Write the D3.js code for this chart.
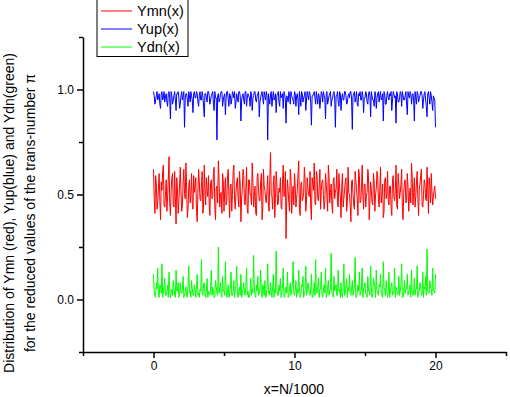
<!DOCTYPE html>
<html><head><meta charset="utf-8">
<script src="https://cdn.jsdelivr.net/npm/d3@7"></script>
<style>body{margin:0;background:#fff}svg{display:block}text{font-family:"Liberation Sans",Arial,sans-serif}</style>
</head><body>
<svg id="c" width="510" height="397"></svg>
<script>
const xStep = 0.05;
const xTicks = [0, 10, 20];
const yTicks = [0.0, 0.5, 1.0];
const seriesNames = ["Ymn(x)", "Yup(x)", "Ydn(x)"];
// even-indexed samples (x = 0, 0.1, ..., 20)
const yupA = [
0.99,0.93,0.97,0.95,0.98,0.91,0.99,0.96,0.94,0.98,
0.92,0.99,0.86,0.97,0.95,0.99,0.90,0.98,0.96,0.93,
0.99,0.97,0.82,0.98,0.95,0.99,0.94,0.97,0.89,0.99,
0.96,0.98,0.92,0.99,0.95,0.97,0.87,0.98,0.94,0.99,
0.93,0.97,0.99,0.90,0.96,0.76,0.98,0.95,0.99,0.92,
0.97,0.88,0.99,0.95,0.98,0.93,0.99,0.96,0.91,0.98,
0.94,0.99,0.85,0.97,0.95,0.99,0.92,0.98,0.96,0.99,
0.90,0.97,0.99,0.94,0.98,0.87,0.96,0.99,0.93,0.97,
0.99,0.76,0.95,0.98,0.92,0.99,0.96,0.89,0.98,0.94,
0.99,0.97,0.91,0.98,0.84,0.96,0.99,0.93,0.97,0.95,
0.99,0.92,0.98,0.88,0.96,0.99,0.94,0.97,0.90,0.99,
0.95,0.98,0.83,0.97,0.99,0.93,0.96,0.98,0.91,0.99,
0.94,0.97,0.86,0.99,0.95,0.98,0.92,0.96,0.99,0.82,
0.97,0.94,0.99,0.90,0.98,0.95,0.99,0.93,0.97,0.96,
0.99,0.81,0.98,0.94,0.99,0.92,0.97,0.95,0.99,0.89,
0.96,0.98,0.93,0.99,0.87,0.97,0.95,0.99,0.91,0.98,
0.94,0.99,0.96,0.85,0.98,0.93,0.99,0.95,0.97,0.90,
0.99,0.96,0.84,0.98,0.94,0.99,0.92,0.97,0.95,0.99,
0.88,0.97,0.99,0.93,0.98,0.85,0.96,0.99,0.94,0.97,
0.99,0.91,0.98,0.95,0.87,0.99,0.93,0.97,0.90,0.96,0.82];
// odd-indexed samples (x = 0.05, 0.15, ..., 19.95)
const yupB = [
0.97,0.95,0.99,0.96,0.93,0.98,0.95,0.99,0.97,0.94,
0.98,0.96,0.99,0.93,0.97,0.95,0.98,0.99,0.91,0.97,
0.95,0.99,0.96,0.98,0.92,0.97,0.99,0.95,0.98,0.96,
0.99,0.94,0.97,0.95,0.99,0.92,0.98,0.96,0.99,0.97,
0.95,0.98,0.93,0.99,0.96,0.97,0.94,0.98,0.99,0.95,
0.98,0.96,0.99,0.92,0.97,0.95,0.98,0.99,0.94,0.96,
0.99,0.97,0.95,0.98,0.93,0.99,0.96,0.97,0.92,0.98,
0.96,0.99,0.95,0.97,0.99,0.94,0.98,0.96,0.99,0.95,
0.97,0.98,0.93,0.99,0.96,0.95,0.98,0.97,0.99,0.92,
0.96,0.98,0.99,0.95,0.97,0.94,0.98,0.99,0.96,0.93,
0.98,0.97,0.95,0.99,0.92,0.98,0.96,0.99,0.95,0.97,
0.99,0.94,0.97,0.98,0.96,0.99,0.93,0.97,0.95,0.98,
0.99,0.96,0.98,0.93,0.97,0.99,0.95,0.98,0.96,0.97,
0.99,0.92,0.98,0.96,0.95,0.99,0.97,0.94,0.98,0.99,
0.95,0.97,0.99,0.96,0.93,0.98,0.99,0.95,0.97,0.96,
0.99,0.94,0.98,0.97,0.99,0.95,0.92,0.98,0.96,0.99,
0.97,0.95,0.98,0.99,0.93,0.97,0.96,0.98,0.99,0.95,
0.98,0.97,0.99,0.94,0.96,0.98,0.99,0.95,0.97,0.93,
0.99,0.96,0.98,0.97,0.95,0.99,0.93,0.98,0.96,0.99,
0.97,0.95,0.99,0.92,0.98,0.96,0.99,0.94,0.97,0.95];
const ymnA = [
0.62,0.41,0.55,0.46,0.60,0.38,0.52,0.64,0.44,0.57,
0.49,0.68,0.40,0.58,0.45,0.61,0.36,0.53,0.47,0.63,
0.42,0.56,0.50,0.65,0.39,0.54,0.46,0.60,0.43,0.51,
0.58,0.37,0.62,0.48,0.55,0.41,0.64,0.45,0.52,0.59,
0.40,0.57,0.49,0.63,0.38,0.54,0.66,0.44,0.51,0.60,
0.42,0.58,0.47,0.62,0.39,0.55,0.50,0.64,0.43,0.56,
0.48,0.61,0.37,0.53,0.59,0.45,0.63,0.41,0.57,0.50,
0.65,0.44,0.54,0.40,0.60,0.47,0.56,0.38,0.62,0.52,
0.46,0.59,0.42,0.70,0.49,0.55,0.39,0.61,0.45,0.53,
0.58,0.43,0.64,0.50,0.29,0.57,0.46,0.62,0.41,0.54,
0.60,0.44,0.52,0.66,0.40,0.56,0.48,0.63,0.42,0.58,
0.50,0.61,0.38,0.55,0.65,0.45,0.59,0.47,0.62,0.52,
0.57,0.43,0.60,0.49,0.64,0.46,0.55,0.41,0.58,0.51,
0.62,0.44,0.53,0.39,0.60,0.48,0.56,0.42,0.63,0.50,
0.37,0.57,0.45,0.61,0.52,0.40,0.59,0.47,0.64,0.43,
0.55,0.49,0.62,0.38,0.56,0.46,0.60,0.42,0.53,0.58,
0.44,0.63,0.50,0.39,0.57,0.48,0.61,0.45,0.54,0.40,
0.59,0.47,0.64,0.43,0.55,0.51,0.62,0.38,0.56,0.46,
0.60,0.42,0.53,0.65,0.45,0.58,0.49,0.61,0.40,0.55,
0.62,0.44,0.57,0.48,0.63,0.41,0.54,0.60,0.45,0.52,0.48];
const ymnB = [
0.48,0.59,0.43,0.53,0.47,0.56,0.61,0.45,0.50,0.42,
0.57,0.46,0.52,0.60,0.44,0.49,0.58,0.41,0.55,0.51,
0.45,0.62,0.48,0.53,0.43,0.57,0.50,0.46,0.59,0.54,
0.42,0.51,0.56,0.47,0.61,0.44,0.52,0.58,0.49,0.45,
0.55,0.48,0.60,0.43,0.53,0.46,0.57,0.50,0.41,0.56,
0.52,0.45,0.59,0.49,0.54,0.42,0.61,0.47,0.51,0.58,
0.44,0.55,0.48,0.62,0.46,0.53,0.43,0.57,0.50,0.45,
0.56,0.49,0.41,0.58,0.52,0.47,0.60,0.44,0.54,0.48,
0.53,0.45,0.57,0.50,0.43,0.59,0.48,0.55,0.46,0.51,
0.44,0.56,0.49,0.61,0.47,0.52,0.42,0.58,0.50,0.45,
0.54,0.48,0.60,0.43,0.55,0.47,0.51,0.57,0.46,0.53,
0.49,0.44,0.58,0.52,0.46,0.61,0.48,0.54,0.43,0.56,
0.50,0.47,0.55,0.42,0.59,0.51,0.45,0.57,0.48,0.53,
0.46,0.60,0.49,0.54,0.44,0.52,0.58,0.47,0.51,0.45,
0.56,0.50,0.43,0.57,0.48,0.62,0.46,0.53,0.49,0.55,
0.44,0.51,0.59,0.47,0.52,0.45,0.56,0.50,0.61,0.48,
0.53,0.46,0.55,0.42,0.58,0.50,0.47,0.54,0.44,0.57,
0.49,0.52,0.45,0.60,0.48,0.55,0.43,0.51,0.57,0.47,
0.54,0.49,0.46,0.58,0.51,0.44,0.56,0.48,0.53,0.59,
0.45,0.50,0.55,0.47,0.52,0.58,0.46,0.51,0.49,0.54];
const ydnA = [
0.12,0.02,0.08,0.15,0.01,0.06,0.17,0.03,0.10,0.02,
0.07,0.13,0.01,0.05,0.09,0.02,0.14,0.04,0.01,0.08,
0.03,0.11,0.02,0.06,0.01,0.16,0.04,0.09,0.02,0.07,
0.01,0.12,0.03,0.05,0.19,0.02,0.08,0.01,0.10,0.04,
0.02,0.14,0.06,0.01,0.09,0.03,0.25,0.05,0.02,0.11,
0.04,0.18,0.01,0.07,0.03,0.13,0.02,0.09,0.05,0.16,
0.01,0.06,0.12,0.03,0.08,0.02,0.15,0.04,0.01,0.10,
0.05,0.21,0.02,0.07,0.11,0.03,0.14,0.01,0.06,0.09,
0.02,0.17,0.04,0.08,0.01,0.12,0.05,0.23,0.02,0.07,
0.10,0.03,0.15,0.01,0.06,0.13,0.02,0.08,0.04,0.18,
0.02,0.09,0.05,0.14,0.01,0.07,0.11,0.03,0.16,0.04,
0.06,0.02,0.12,0.01,0.08,0.19,0.03,0.10,0.05,0.13,
0.01,0.07,0.15,0.02,0.09,0.04,0.22,0.03,0.11,0.06,
0.02,0.14,0.05,0.08,0.01,0.17,0.03,0.10,0.06,0.12,
0.02,0.09,0.04,0.20,0.01,0.07,0.13,0.03,0.15,0.05,
0.08,0.02,0.11,0.04,0.16,0.01,0.10,0.06,0.14,0.03,
0.07,0.12,0.02,0.18,0.05,0.09,0.01,0.13,0.04,0.08,
0.03,0.15,0.06,0.02,0.11,0.04,0.17,0.01,0.09,0.05,
0.12,0.03,0.07,0.14,0.02,0.10,0.05,0.16,0.04,0.08,
0.02,0.13,0.06,0.11,0.24,0.03,0.09,0.05,0.15,0.04,0.12];
const ydnB = [
0.04,0.01,0.05,0.02,0.07,0.03,0.01,0.06,0.02,0.04,
0.01,0.05,0.03,0.02,0.06,0.01,0.04,0.08,0.02,0.03,
0.05,0.01,0.04,0.02,0.07,0.03,0.01,0.05,0.02,0.04,
0.06,0.02,0.01,0.04,0.03,0.07,0.02,0.05,0.01,0.03,
0.05,0.02,0.04,0.01,0.06,0.02,0.03,0.08,0.01,0.04,
0.02,0.05,0.03,0.01,0.06,0.02,0.04,0.01,0.07,0.03,
0.04,0.02,0.01,0.05,0.03,0.06,0.02,0.01,0.04,0.02,
0.03,0.06,0.01,0.04,0.02,0.05,0.03,0.07,0.02,0.01,
0.05,0.03,0.02,0.04,0.06,0.01,0.03,0.05,0.02,0.04,
0.01,0.06,0.02,0.04,0.03,0.01,0.05,0.02,0.07,0.03,
0.04,0.01,0.03,0.05,0.02,0.06,0.01,0.04,0.02,0.08,
0.03,0.05,0.01,0.04,0.02,0.03,0.06,0.01,0.05,0.02,
0.04,0.03,0.01,0.06,0.02,0.05,0.03,0.01,0.04,0.07,
0.02,0.04,0.01,0.03,0.05,0.02,0.06,0.01,0.04,0.03,
0.05,0.02,0.07,0.01,0.03,0.04,0.02,0.05,0.01,0.06,
0.03,0.01,0.04,0.02,0.05,0.03,0.08,0.01,0.04,0.02,
0.06,0.03,0.01,0.05,0.02,0.04,0.03,0.01,0.06,0.02,
0.04,0.01,0.05,0.03,0.02,0.07,0.01,0.04,0.03,0.05,
0.02,0.06,0.01,0.04,0.03,0.02,0.05,0.01,0.04,0.06,
0.03,0.01,0.05,0.02,0.04,0.03,0.06,0.02,0.04,0.03];

function merge(a, b) {
  const out = [];
  a.forEach((v, i) => { out.push(v); if (i < b.length) out.push(b[i]); });
  return out;
}

const svg = d3.select("#c");
const L = 83, R = 506, T = 37, B = 352;
const x = d3.scaleLinear().domain([-5, 25]).range([L, R]);
const y = d3.scaleLinear().domain([-0.25, 1.25]).range([B, T]);

const line = d3.line().x((d, i) => x(i * xStep)).y(d => y(d));
const series = [
  {v: merge(ymnA, ymnB), c: "#ff0000"},
  {v: merge(yupA, yupB), c: "#0000ff"},
  {v: merge(ydnA, ydnB), c: "#00ff00"}];
series.forEach(s => {
  svg.append("path").attr("d", line(s.v)).attr("fill", "none")
    .attr("stroke", s.c).attr("stroke-width", 1);
});

const xAxis = d3.axisBottom(x).tickValues(xTicks).tickFormat(d3.format("d")).tickSizeInner(6).tickSizeOuter(0).tickPadding(3);
const gx = svg.append("g").attr("transform", `translate(0,${B})`).call(xAxis);
const yAxis = d3.axisLeft(y).tickValues(yTicks).tickFormat(d3.format(".1f")).tickSizeInner(6).tickSizeOuter(0).tickPadding(3);
const gy = svg.append("g").attr("transform", `translate(${L},0)`).call(yAxis);
[gx, gy].forEach(g => {
  g.select(".domain").attr("stroke", "#000").attr("stroke-width", 1.5);
  g.selectAll(".tick line").attr("stroke", "#000").attr("stroke-width", 1.5);
  g.selectAll("text").attr("font-size", 12).attr("fill", "#000").attr("font-family", '"Liberation Sans",Arial,sans-serif');
});
const xMinor = d3.axisBottom(x).tickValues([-5, 5, 15, 25]).tickFormat("").tickSizeInner(4).tickSizeOuter(0);
const gxm = svg.append("g").attr("transform", `translate(0,${B})`).call(xMinor);
const yMinor = d3.axisLeft(y).tickValues([-0.25, 0.25, 0.75, 1.25]).tickFormat("").tickSizeInner(4).tickSizeOuter(0);
const gym = svg.append("g").attr("transform", `translate(${L},0)`).call(yMinor);
[gxm, gym].forEach(g => {
  g.select(".domain").remove();
  g.selectAll(".tick line").attr("stroke", "#000").attr("stroke-width", 1.5);
});

svg.append("text").attr("x", 294).attr("y", 394).attr("text-anchor", "middle")
  .attr("font-size", 14).text("x=N/1000");
svg.append("text").attr("transform", "translate(14,213) rotate(-90)").attr("text-anchor", "middle")
  .attr("font-size", 14).text("Distribution of Ymn (red), Yup(blue) and Ydn(green)");
svg.append("text").attr("transform", "translate(35,213) rotate(-90)").attr("text-anchor", "middle")
  .attr("font-size", 14).text("for the reduced values of the trans-number \u03c0");

const lg = svg.append("g");
lg.append("rect").attr("x", 97).attr("y", -1).attr("width", 91).attr("height", 57.5)
  .attr("fill", "#fff").attr("stroke", "#000").attr("stroke-width", 1);
series.forEach((s, i) => {
  const yy = 11 + i * 18;
  lg.append("line").attr("x1", 101).attr("x2", 132).attr("y1", yy).attr("y2", yy)
    .attr("stroke", s.c).attr("stroke-width", 1);
  lg.append("text").attr("x", 137).attr("y", yy + 5).attr("font-size", 14.5).text(seriesNames[i]);
});
</script>
</body></html>
